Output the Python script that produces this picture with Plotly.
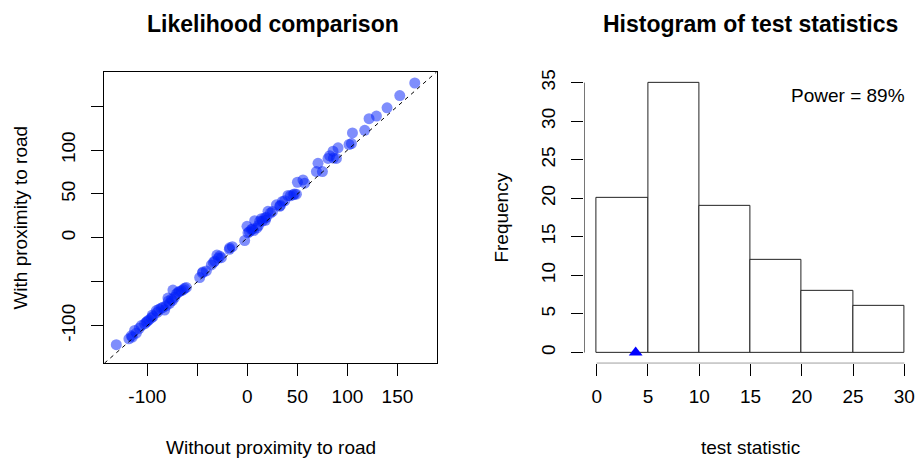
import plotly.graph_objects as go

# Log-likelihood of each simulated data set under the two models
lik_without = [-131.0, -118.4, -116.0, -112.7, -111.0, -106.0, -102.7, -101.0, -98.4, -96.0,
               -94.4, -91.0, -88.4, -84.4, -82.7, -81.0, -79.4, -77.7, -75.0, -74.4,
               -72.7, -71.0, -69.4, -66.0, -62.7, -61.0, -47.7, -44.4, -41.0, -36.0,
               -32.7, -30.4, -27.7, -26.0, -17.7, -15.0, -2.7, -0.4, 0.6, 4.0,
               6.3, 7.3, 9.6, 12.3, 14.0, 17.3, 19.0, 20.6, 23.0, 29.0,
               32.3, 35.0, 37.3, 40.6, 45.6, 49.0, 50.0, 55.6, 57.3, 69.0,
               70.6, 75.0, 80.6, 82.3, 85.6, 89.0, 90.6, 101.6, 104.0, 105.0,
               117.3, 121.6, 129.0, 139.6, 152.3, 167.3, -115.0, -108.0, -100.0, -95.0,
               -90.0, -86.0, -79.0, -76.0, -68.0, -64.0, -45.0, -34.0, -29.0, -18.0,
               2.0, 5.0, 11.0, 15.0, 18.0, 25.0, 33.0, 43.0, 47.0, 86.0]
lik_with = [-121.8, -115.0, -111.6, -105.5, -108.6, -99.9, -98.0, -96.1, -93.5, -91.2,
            -89.7, -82.9, -81.4, -79.1, -82.2, -77.3, -68.6, -74.6, -71.6, -59.5,
            -67.8, -64.1, -62.2, -60.3, -57.3, -56.5, -45.2, -38.8, -37.7, -30.9,
            -26.4, -19.6, -20.7, -22.6, -11.3, -10.1, -3.0, 13.2, 5.7, 9.5,
            8.3, 19.6, 11.3, 18.9, 21.9, 22.7, 23.4, 30.2, 28.3, 37.7,
            35.9, 41.5, 42.3, 48.3, 49.1, 49.8, 63.4, 66.0, 62.3, 75.5,
            84.9, 75.5, 90.5, 93.6, 98.8, 90.5, 102.6, 106.4, 107.5, 119.6,
            122.6, 135.8, 138.8, 148.2, 162.2, 176.5, -113.0, -103.0, -95.0, -88.0,
            -85.0, -80.0, -72.0, -70.0, -61.0, -59.0, -40.0, -28.0, -23.0, -13.0,
            7.0, 10.0, 14.0, 19.0, 20.0, 30.0, 37.0, 48.0, 50.0, 91.0]

# Histogram of the likelihood-ratio test statistics
bin_left = [0, 5, 10, 15, 20, 25]
bin_counts = [20, 35, 19, 12, 8, 6]
bin_width = 5
observed_stat = 3.8
power_pct = 89

lik_range = [-143.0, 189.2]
lik_ticks = [-100, -50, 0, 50, 100, 150]
lik_xticktext = ["-100", "", "0", "50", "100", "150"]
lik_yticktext = ["-100", "", "0", "50", "100", ""]
hist_xticks = [0, 5, 10, 15, 20, 25, 30]
hist_yticks = [0, 5, 10, 15, 20, 25, 30, 35]
hist_xrange = [-1.2, 31.2]
hist_yrange = [-1.4, 36.4]

FONT = "Liberation Sans, Arial, Helvetica, sans-serif"
TICK_SIZE = 19
TITLE_SIZE = 23

fig = go.Figure()

fig.add_trace(go.Scatter(
    x=lik_without, y=lik_with, mode="markers",
    marker=dict(size=11, color="rgba(0,30,250,0.5)", line=dict(width=0)),
    xaxis="x", yaxis="y", showlegend=False, hoverinfo="skip"))

fig.add_trace(go.Scatter(
    x=lik_range, y=lik_range, mode="lines",
    line=dict(color="black", width=1, dash="4px,4px"),
    xaxis="x", yaxis="y", showlegend=False, hoverinfo="skip", cliponaxis=True))

fig.add_trace(go.Bar(
    x=[b + bin_width / 2 for b in bin_left], y=bin_counts, width=bin_width,
    marker=dict(color="white", line=dict(color="#222222", width=1)),
    xaxis="x2", yaxis="y2", showlegend=False, hoverinfo="skip"))

fig.add_trace(go.Scatter(
    x=[observed_stat], y=[0], mode="markers",
    marker=dict(symbol="triangle-up", size=12, color="#0000ff", line=dict(width=0)),
    xaxis="x2", yaxis="y2", showlegend=False, hoverinfo="skip", cliponaxis=False))

dom_y = [0.2098, 0.849]
tick_common = dict(ticks="outside", ticklen=12, tickwidth=1, tickcolor="black",
                   showgrid=False, zeroline=False,
                   tickfont=dict(family=FONT, size=TICK_SIZE, color="black"))

fig.update_layout(
    width=918, height=459,
    margin=dict(l=0, r=0, t=0, b=0),
    paper_bgcolor="white", plot_bgcolor="white",
    bargap=0,
    xaxis=dict(domain=[0.1136, 0.4757], range=lik_range, anchor="y",
               tickvals=lik_ticks, ticktext=lik_xticktext,
               showline=True, mirror=True, linecolor="black", linewidth=1,
               ticklabelstandoff=4, **tick_common),
    yaxis=dict(domain=dom_y, range=lik_range, anchor="x",
               tickvals=lik_ticks, ticktext=lik_yticktext, tickangle=-90,
               showline=True, mirror=True, linecolor="black", linewidth=1,
               ticklabelstandoff=9, **tick_common),
    xaxis2=dict(domain=[0.6366, 0.9985], range=hist_xrange, anchor="y2",
                tickvals=hist_xticks, showline=False,
                ticklabelstandoff=4, **tick_common),
    yaxis2=dict(domain=dom_y, range=hist_yrange, anchor="x2",
                tickvals=hist_yticks, tickangle=-90, showline=False,
                ticklabelstandoff=9, **tick_common),
)

# Axis lines of the histogram span only the labelled range
fig.add_shape(type="line", xref="x2", yref="y2", x0=0, x1=30,
              y0=hist_yrange[0], y1=hist_yrange[0], line=dict(color="black", width=1))
fig.add_shape(type="line", xref="x2", yref="y2", x0=hist_xrange[0], x1=hist_xrange[0],
              y0=0, y1=35, line=dict(color="black", width=1))

def px_x(p):
    return p / 918.0

def px_y(p):
    return 1 - p / 459.0

titles = [
    ("<b>Likelihood comparison</b>", 272.5, 21, TITLE_SIZE, 0),
    ("<b>Histogram of test statistics</b>", 750, 21, TITLE_SIZE, 0),
    ("Without proximity to road", 270.5, 447, TICK_SIZE, 0),
    ("test statistic", 750.5, 447, TICK_SIZE, 0),
    ("With proximity to road", 21, 216, TICK_SIZE, -90),
    ("Frequency", 502, 216, TICK_SIZE, -90),
]
for text, x, y, size, ang in titles:
    fig.add_annotation(text=text, xref="paper", yref="paper", x=px_x(x), y=px_y(y),
                       xanchor="center", yanchor="middle", showarrow=False, textangle=ang,
                       font=dict(family=FONT, size=size, color="black"))

fig.add_annotation(text=f"Power = {power_pct}%", xref="paper", yref="paper",
                   x=px_x(907), y=px_y(93), xanchor="right", yanchor="middle",
                   showarrow=False, font=dict(family=FONT, size=TICK_SIZE, color="black"))

fig.write_html("out.html")
